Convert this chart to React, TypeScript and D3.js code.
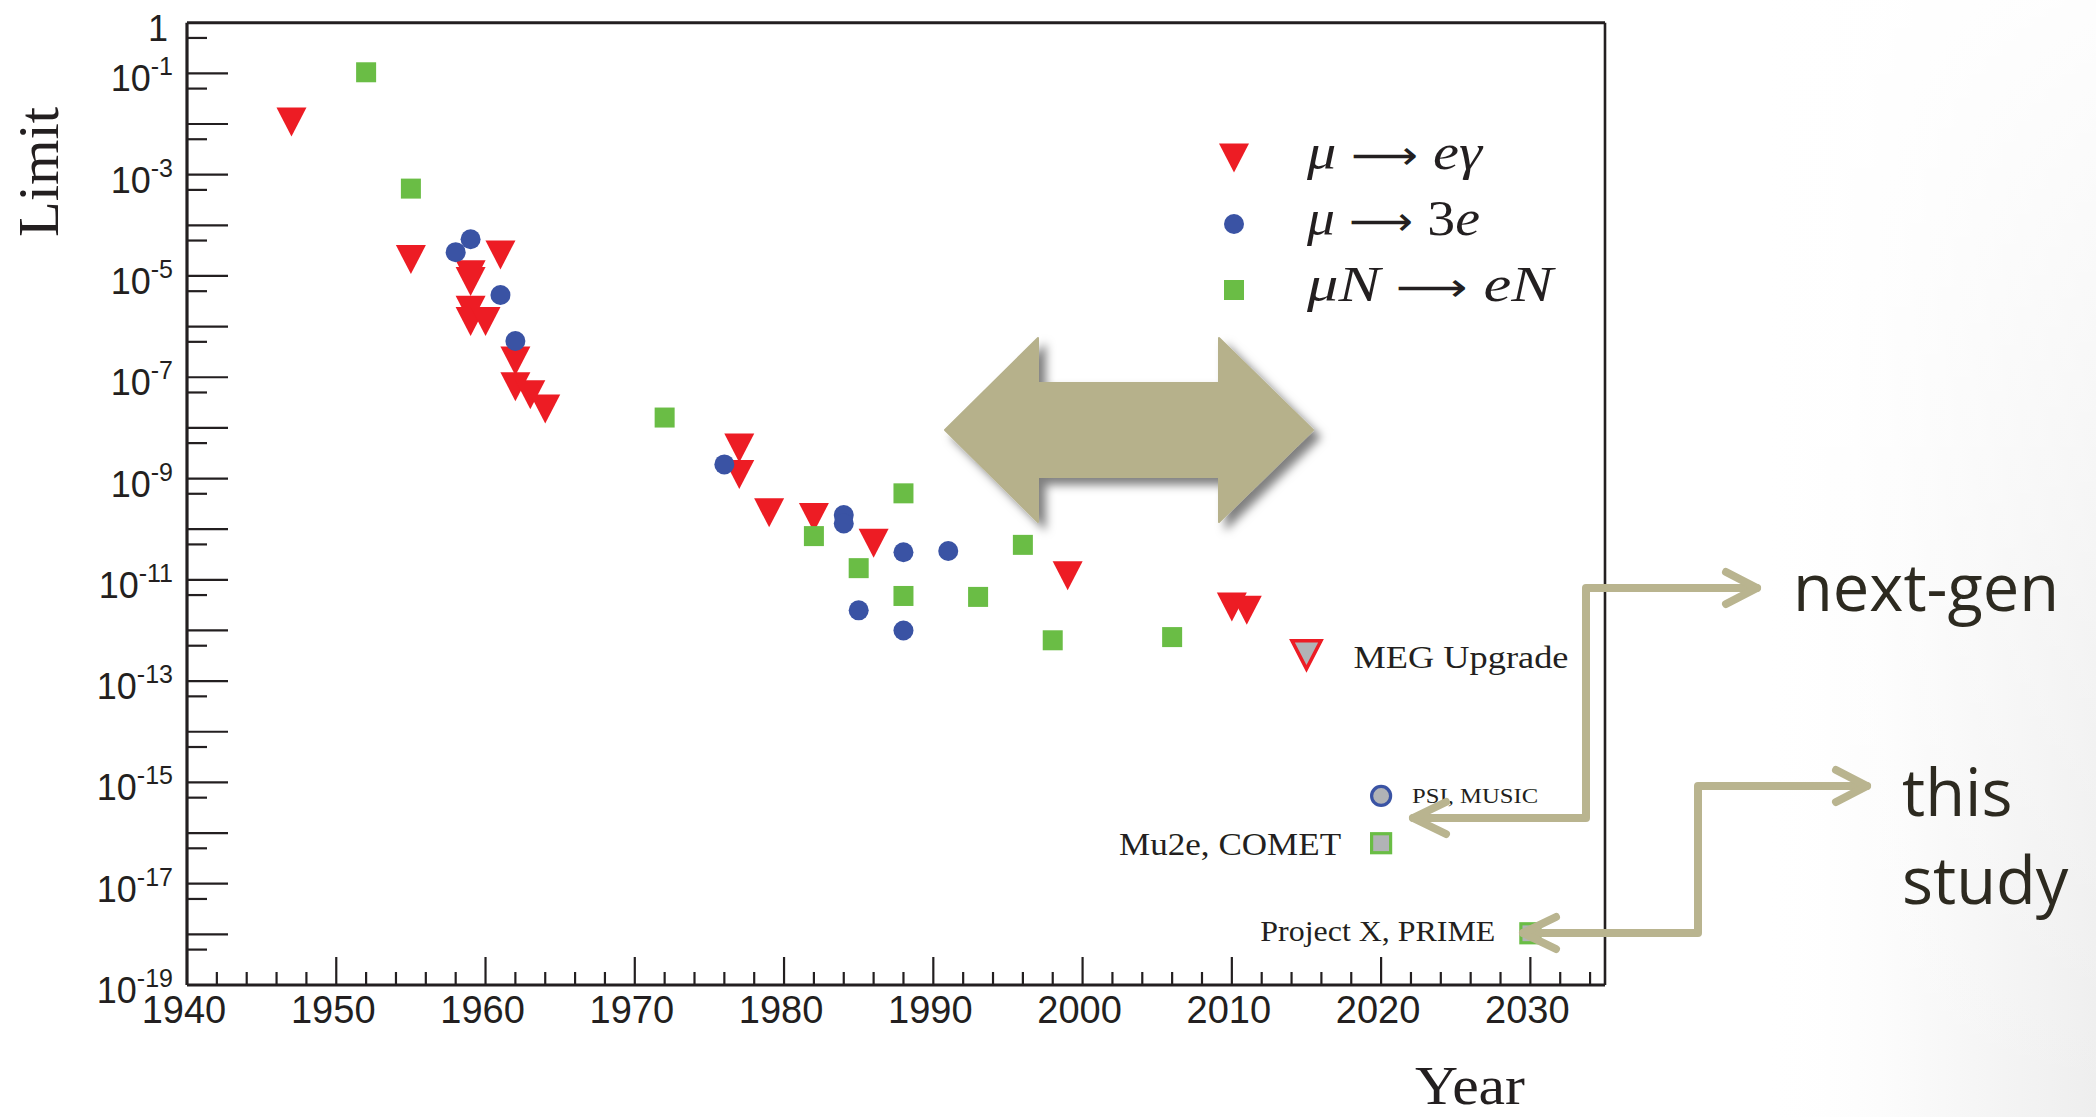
import React, { useEffect, useRef } from 'react'
import * as d3 from 'd3'

const W = 2096
const H = 1117

// mu -> e gamma
const megYears = [1947, 1955, 1959, 1959, 1959, 1959, 1960, 1961, 1962, 1962, 1963, 1964, 1977, 1977, 1979, 1982, 1986, 1999, 2010, 2011]
const megLimits = [1.1e-2, 2.1e-5, 1.05e-5, 7.8e-6, 2.1e-6, 1.26e-6, 1.26e-6, 2.6e-5, 2.1e-7, 6.5e-8, 4.5e-8, 2.35e-8, 4.0e-9, 1.2e-9, 2.1e-10, 1.7e-10, 5.3e-11, 1.2e-11, 2.9e-12, 2.5e-12]

// mu -> 3e
const m3eYears = [1958, 1959, 1961, 1962, 1976, 1984, 1984, 1985, 1988, 1988, 1991]
const m3eLimits = [2.95e-5, 5.3e-5, 4.2e-6, 5.2e-7, 1.9e-9, 1.9e-10, 1.3e-10, 2.5e-12, 3.5e-11, 1.0e-12, 3.7e-11]

// mu N -> e N
const convYears = [1952, 1955, 1972, 1982, 1985, 1988, 1988, 1993, 1996, 1998, 2006]
const convLimits = [1.05e-1, 5.3e-4, 1.6e-8, 7.3e-11, 1.7e-11, 5.1e-10, 4.8e-12, 4.6e-12, 4.9e-11, 6.4e-13, 7.4e-13]

// projected sensitivities
const projNames = ['MEG Upgrade', 'PSI, MUSIC', 'Mu2e, COMET', 'Project X, PRIME']
const projYears = [2015, 2020, 2020, 2030]
const projLimits = [3.3e-13, 5.4e-16, 6.3e-17, 1.05e-18]
const projKinds = ['meg', 'm3e', 'conv', 'conv']

const xTickYears = d3.range(1940, 2031, 10)
const yLabelExps = [0, -1, -3, -5, -7, -9, -11, -13, -15, -17, -19]

const RED = '#ed1c24'
const BLUE = '#3a53a4'
const GREEN = '#6abd45'
const GRAY = '#b1b3b6'
const TAN = '#b9b48f'

export default function App() {
  const svgRef = useRef<SVGSVGElement>(null)

  useEffect(() => {
    if (!svgRef.current) return
    const svg = d3.select(svgRef.current)
    svg.selectAll('*').remove()

    const x = d3.scaleLinear().domain([1940, 2035]).range([187, 1605])
    const y = d3.scaleLog().domain([1e-19, 1]).range([985, 22.7])

    const defs = svg.append('defs')
    // slide background fades to light grey at the far right
    const bg = defs.append('linearGradient').attr('id', 'bg-grad')
      .attr('x1', '0%').attr('y1', '0%').attr('x2', '100%').attr('y2', '0%')
    bg.append('stop').attr('offset', '0%').attr('stop-color', '#ffffff').attr('stop-opacity', 0)
    bg.append('stop').attr('offset', '50%').attr('stop-color', '#f9f9f9').attr('stop-opacity', 1)
    bg.append('stop').attr('offset', '100%').attr('stop-color', '#eeeeee').attr('stop-opacity', 1)
    const fade = defs.append('linearGradient').attr('id', 'bg-fade')
      .attr('x1', '0%').attr('y1', '0%').attr('x2', '0%').attr('y2', '100%')
    fade.append('stop').attr('offset', '0%').attr('stop-color', '#fff').attr('stop-opacity', 0.9)
    fade.append('stop').attr('offset', '60%').attr('stop-color', '#fff').attr('stop-opacity', 0.3)
    fade.append('stop').attr('offset', '100%').attr('stop-color', '#fff').attr('stop-opacity', 0)

    const shadow = defs.append('filter').attr('id', 'shadow')
      .attr('x', '-20%').attr('y', '-20%').attr('width', '140%').attr('height', '140%')
    shadow.append('feDropShadow')
      .attr('dx', 7).attr('dy', 7).attr('stdDeviation', 5)
      .attr('flood-color', '#000').attr('flood-opacity', 0.5)

    svg.append('rect').attr('width', W).attr('height', H).attr('fill', '#fff')
    svg.append('rect').attr('x', 1760).attr('width', W - 1760).attr('height', H).attr('fill', 'url(#bg-grad)')
    svg.append('rect').attr('x', 1760).attr('width', W - 1760).attr('height', H).attr('fill', 'url(#bg-fade)')

    // ---- axes & frame
    const axis = svg.append('g').attr('stroke', '#231f20').attr('fill', 'none')
    axis.append('line').attr('x1', x(1940)).attr('x2', x(2035)).attr('y1', y(1e-19)).attr('y2', y(1e-19)).attr('stroke-width', 3.2)
    axis.append('line').attr('x1', x(1940)).attr('x2', x(1940)).attr('y1', y(1e-19)).attr('y2', y(1)).attr('stroke-width', 3.2)
    axis.append('line').attr('x1', x(1940)).attr('x2', x(2035)).attr('y1', y(1)).attr('y2', y(1)).attr('stroke-width', 3)
    axis.append('line').attr('x1', x(2035)).attr('x2', x(2035)).attr('y1', y(1e-19)).attr('y2', y(1)).attr('stroke-width', 2.6)

    // x ticks
    d3.range(1942, 2035, 2).forEach(yr => {
      const major = yr % 10 === 0
      axis.append('line').attr('x1', x(yr)).attr('x2', x(yr))
        .attr('y1', y(1e-19)).attr('y2', y(1e-19) - (major ? 28 : 13)).attr('stroke-width', 2.2)
    })
    // y ticks: decades long, 5x10^k short
    d3.range(-18, 0).forEach(e => {
      axis.append('line').attr('x1', x(1940)).attr('x2', x(1940) + 41)
        .attr('y1', y(Math.pow(10, e))).attr('y2', y(Math.pow(10, e))).attr('stroke-width', 2.2)
    })
    d3.range(-19, 0).forEach(e => {
      const v = 5 * Math.pow(10, e)
      axis.append('line').attr('x1', x(1940)).attr('x2', x(1940) + 20)
        .attr('y1', y(v)).attr('y2', y(v)).attr('stroke-width', 2.2)
    })

    // tick labels
    const sans = '"Liberation Sans", Arial, sans-serif'
    svg.append('g').selectAll('text').data(xTickYears).enter().append('text')
      .attr('x', d => x(d) - 3).attr('y', 1023)
      .attr('text-anchor', 'middle').attr('font-family', sans).attr('font-size', 38).attr('fill', '#231f20')
      .text(d => String(d))

    yLabelExps.forEach(e => {
      const t = svg.append('text')
        .attr('x', 173).attr('y', y(Math.pow(10, e)) + 18)
        .attr('text-anchor', 'end').attr('font-family', sans).attr('font-size', 36).attr('fill', '#231f20')
      if (e === 0) {
        t.attr('x', 168).text('1')
      } else {
        t.append('tspan').text('10')
        t.append('tspan').attr('font-size', 25).attr('dy', -16).text(String(e))
      }
    })

    // axis titles
    const serif = '"Liberation Serif", "DejaVu Serif", serif'
    svg.append('text')
      .attr('transform', `translate(58,172) rotate(-90)`)
      .attr('text-anchor', 'middle').attr('font-family', serif).attr('font-size', 57).attr('fill', '#231f20')
      .attr('textLength', 130).attr('lengthAdjust', 'spacingAndGlyphs')
      .text('Limit')
    svg.append('text')
      .attr('x', 1415).attr('y', 1104)
      .attr('font-family', serif).attr('font-size', 54).attr('fill', '#231f20')
      .attr('textLength', 110).attr('lengthAdjust', 'spacingAndGlyphs')
      .text('Year')

    // ---- big double arrow annotation
    const bigArrow: [number, number][] = [
      [945, 430], [1038, 338], [1038, 383], [1219, 383], [1219, 338],
      [1313, 430], [1219, 522], [1219, 477], [1038, 477], [1038, 522]
    ]
    svg.append('path')
      .attr('d', d3.line()(bigArrow) + 'Z')
      .attr('fill', '#b6b18b').attr('stroke', '#b6b18b').attr('stroke-width', 2).attr('stroke-linejoin', 'round')
      .attr('filter', 'url(#shadow)')

    // ---- markers
    const tri = (cx: number, cy: number, w: number, h: number) =>
      `M${cx - w / 2},${cy - h / 2}L${cx + w / 2},${cy - h / 2}L${cx},${cy + h / 2}Z`

    const marks = svg.append('g')
    marks.selectAll('.meg').data(megYears).enter().append('path')
      .attr('class', 'meg')
      .attr('d', (d, i) => tri(x(d), y(megLimits[i]), 30, 29))
      .attr('fill', RED)
    marks.selectAll('.m3e').data(m3eYears).enter().append('circle')
      .attr('class', 'm3e')
      .attr('cx', d => x(d)).attr('cy', (d, i) => y(m3eLimits[i])).attr('r', 10)
      .attr('fill', BLUE)
    marks.selectAll('.conv').data(convYears).enter().append('rect')
      .attr('class', 'conv')
      .attr('x', d => x(d) - 10).attr('y', (d, i) => y(convLimits[i]) - 10)
      .attr('width', 20).attr('height', 20)
      .attr('fill', GREEN)

    // projections
    const projLabel: Record<string, { dx: number; dy: number; size: number; anchor: string; len: number }> = {
      'MEG Upgrade': { dx: 47, dy: 13, size: 32, anchor: 'start', len: 215 },
      'PSI, MUSIC': { dx: 31, dy: 7, size: 22, anchor: 'start', len: 126 },
      'Mu2e, COMET': { dx: -40, dy: 12, size: 31, anchor: 'end', len: 222 },
      'Project X, PRIME': { dx: -35, dy: 8, size: 29, anchor: 'end', len: 235 }
    }
    projNames.forEach((name, i) => {
      const cx = x(projYears[i])
      const cy = y(projLimits[i])
      const kind = projKinds[i]
      if (kind === 'meg') {
        marks.append('path').attr('d', tri(cx, cy, 29, 28))
          .attr('fill', GRAY).attr('stroke', RED).attr('stroke-width', 3.5).attr('stroke-linejoin', 'miter')
      } else if (kind === 'm3e') {
        marks.append('circle').attr('cx', cx).attr('cy', cy).attr('r', 9.5)
          .attr('fill', GRAY).attr('stroke', BLUE).attr('stroke-width', 3.2)
      } else {
        marks.append('rect').attr('x', cx - 9.5).attr('y', cy - 9.5).attr('width', 19).attr('height', 19)
          .attr('fill', GRAY).attr('stroke', GREEN).attr('stroke-width', 3.2)
      }
      const l = projLabel[name]
      svg.append('text')
        .attr('x', cx + l.dx).attr('y', cy + l.dy)
        .attr('text-anchor', l.anchor)
        .attr('font-family', serif).attr('font-size', l.size).attr('fill', '#231f20')
        .attr('textLength', l.len).attr('lengthAdjust', 'spacingAndGlyphs')
        .text(name)
    })

    // ---- legend
    const legend = svg.append('g')
    const lx = 1234
    const ly = [158, 224, 290]
    legend.append('path').attr('d', tri(lx, ly[0], 30, 29)).attr('fill', RED)
    legend.append('circle').attr('cx', lx).attr('cy', ly[1]).attr('r', 10).attr('fill', BLUE)
    legend.append('rect').attr('x', lx - 10).attr('y', ly[2] - 10).attr('width', 20).attr('height', 20).attr('fill', GREEN)

    // [text, italic, arrow glyph]
    const legendTexts: { parts: [string, boolean, boolean][]; len: number }[] = [
      { parts: [['μ', true, false], [' ⟶ ', false, true], ['eγ', true, false]], len: 175 },
      { parts: [['μ', true, false], [' ⟶ ', false, true], ['3', false, false], ['e', true, false]], len: 173 },
      { parts: [['μN', true, false], [' ⟶ ', false, true], ['eN', true, false]], len: 246 }
    ]
    legendTexts.forEach((lt, i) => {
      const t = legend.append('text')
        .attr('x', 1307).attr('y', ly[i] + 11)
        .attr('font-family', serif).attr('font-size', 50).attr('fill', '#231f20')
        .attr('textLength', lt.len).attr('lengthAdjust', 'spacingAndGlyphs')
      lt.parts.forEach(([s, it, arrow]) => {
        const sp = t.append('tspan').attr('font-style', it ? 'italic' : 'normal').text(s)
        if (arrow) sp.attr('font-family', '"DejaVu Sans", sans-serif').attr('font-size', 40)
      })
    })

    // ---- connector arrows
    const conn = svg.append('g')
      .attr('fill', 'none').attr('stroke', TAN).attr('stroke-width', 8)
      .attr('stroke-linecap', 'round').attr('stroke-linejoin', 'round')
    const line = d3.line()
    const paths: [number, number][][] = [
      [[1413, 818], [1586, 818], [1586, 588], [1757, 588]],
      [[1446, 802], [1413, 818], [1446, 834]],
      [[1726, 572], [1757, 588], [1726, 604]],
      [[1523, 933], [1698, 933], [1698, 786], [1867, 786]],
      [[1556, 917], [1523, 933], [1556, 949]],
      [[1836, 770], [1867, 786], [1836, 802]]
    ]
    paths.forEach(p => conn.append('path').attr('d', line(p)))

    const slide = '"Open Sans", "Noto Sans", sans-serif'
    const notes: [string, number, number][] = [
      ['next-gen', 1793, 611],
      ['this', 1902, 816],
      ['study', 1902, 904]
    ]
    notes.forEach(([s, nx, ny]) => {
      svg.append('text').attr('x', nx).attr('y', ny)
        .attr('font-family', slide).attr('font-size', 65).attr('fill', '#2d2a20')
        .text(s)
    })
  }, [])

  return (
    <svg
      ref={svgRef}
      width={W}
      height={H}
      style={{ position: 'absolute', left: 0, top: 0, display: 'block' }}
    />
  )
}
